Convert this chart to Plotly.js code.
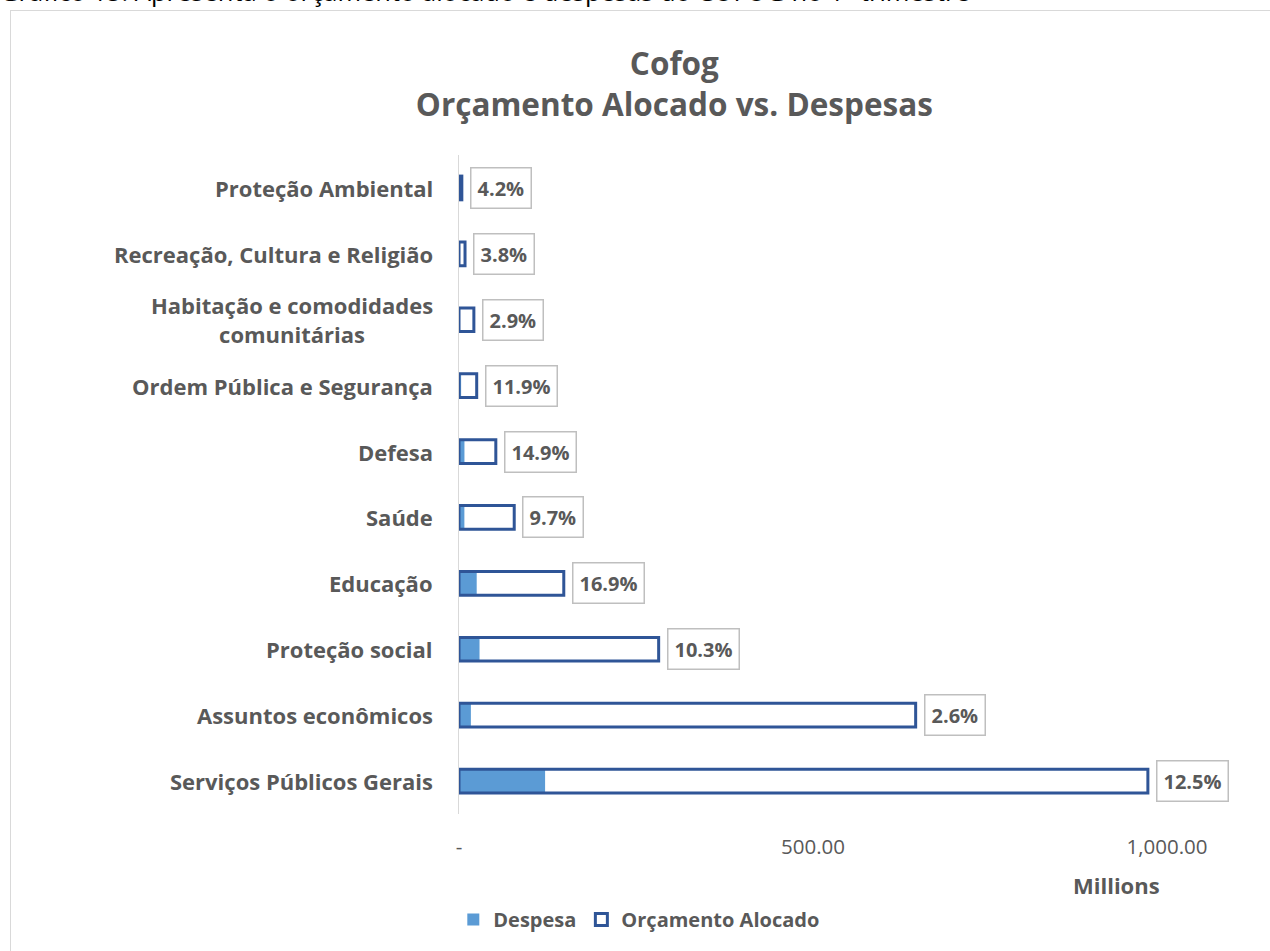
<!DOCTYPE html>
<html><head><meta charset="utf-8">
<script src="https://cdn.plot.ly/plotly-3.0.1.min.js"></script>
<style>
html,body{margin:0;padding:0;width:1270px;height:951px;overflow:hidden;background:#fff;}
#cap{position:absolute;left:0;top:-26px;font-family:"Open Sans","Liberation Sans",sans-serif;font-size:25.5px;line-height:34px;color:#000;white-space:nowrap;}
#frame{position:absolute;left:10px;top:10px;width:1290px;height:980px;border:1px solid #D9D9D9;}
#chart{position:absolute;left:0;top:0;width:1270px;height:951px;}
</style></head>
<body>
<div id="cap">Gráfico 15: Apresenta o orçamento alocado e despesas do COFOG no 1º trimestre</div>
<div id="frame"></div>
<div id="chart"></div>
<script>
const categories = ["Serviços Públicos Gerais","Assuntos econômicos","Proteção social","Educação","Saúde","Defesa","Ordem Pública e Segurança","Habitação e comodidades<br>comunitárias","Recreação, Cultura e Religião","Proteção Ambiental"];
const orcamento = [973, 645, 282, 148, 78, 52, 25, 21, 8.5, 4];
const despesa = [121.6, 16.8, 29.0, 25.0, 7.6, 7.7, 3.0, 0.6, 0.3, 0.17];
const pctLabels = ["12.5%","2.6%","10.3%","16.9%","9.7%","14.9%","11.9%","2.9%","3.8%","4.2%"];
const tickVals = [0, 500, 1000];
const tickText = ["-", "500.00", "1,000.00"];

const font = "'Open Sans', 'Liberation Sans', sans-serif";
const grey = "#595959";

const traces = [
  {type:"bar", orientation:"h", name:"Despesa", x:despesa, y:categories,
   marker:{color:"#5B9BD5", line:{width:0}}, width:0.36, hoverinfo:"x+y"},
  {type:"bar", orientation:"h", name:"Orçamento Alocado", x:orcamento, y:categories,
   marker:{color:"rgba(255,255,255,0)", line:{color:"#2F5597", width:3}}, width:0.36, hoverinfo:"x+y"}
];

const annotations = categories.map((c,i)=>({
  x: orcamento[i], y: c, xref:"x", yref:"y", xanchor:"left", yanchor:"middle",
  xshift: 8, text: "<b>"+pctLabels[i]+"</b>", showarrow:false,
  font:{family:font, size:20, color:grey}, bgcolor:"#fff",
  bordercolor:"#BFBFBF", borderwidth:1.5, borderpad:6
}));
categories.forEach((c,i)=>annotations.push({
  x:0, xref:"paper", y:c, yref:"y", xanchor:"right", yanchor:"middle", xshift:-24,
  text:"<b>"+c+"</b>", align:"center", showarrow:false,
  font:{family:font, size:22, color:grey}
}));
annotations.push({x:(1116-459)/(1167-459)*1000, xref:"x", xanchor:"center", y:-0.107, yref:"paper", yanchor:"middle",
  text:"<b>Millions</b>", showarrow:false, font:{family:font, size:22, color:grey}});

const layout = {
  width:1270, height:951,
  paper_bgcolor:"rgba(0,0,0,0)", plot_bgcolor:"rgba(0,0,0,0)",
  margin:{l:459, r:103, t:155, b:137},
  barmode:"overlay",
  title:{text:"<b>Cofog<br>Orçamento Alocado vs. Despesas</b>", x:0.531, xanchor:"center", y:0.921, yanchor:"middle",
    font:{family:font, size:31.5, color:grey}},
  xaxis:{range:[0,1000], tickvals:tickVals, ticktext:tickText, showgrid:false, zeroline:false,
    showline:false, ticks:"", ticklabelstandoff:18, tickfont:{family:font, size:20.5, color:grey}, fixedrange:true},
  yaxis:{type:"category", range:[-0.5,9.5], showgrid:false, zeroline:false, showline:true,
    linecolor:"#D9D9D9", linewidth:1.5, ticks:"", showticklabels:false, fixedrange:true},
  showlegend:true,
  legend:{orientation:"h", x:0.503, xanchor:"center", xref:"container", y:0.033, yref:"container", yanchor:"middle",
    font:{family:font, size:20, color:grey, weight:"bold"}, itemwidth:30, traceorder:"normal"},
  annotations:annotations
};
Plotly.newPlot("chart", traces, layout, {displayModeBar:false, staticPlot:true});
</script>
</body></html>
